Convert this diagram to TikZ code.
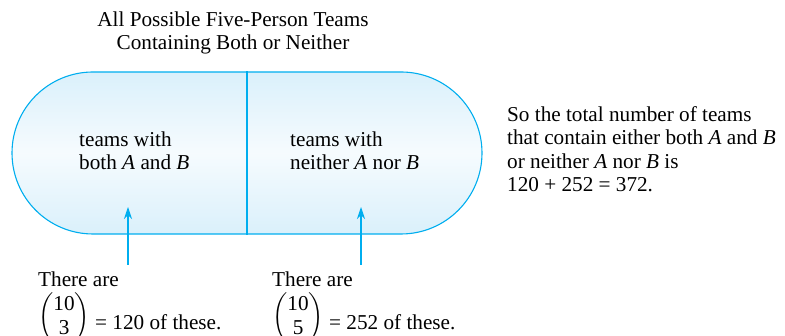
\documentclass[tikz,border=0pt]{standalone}
\usepackage{amsmath}
\usepackage{fontspec}
\setmainfont{Liberation Serif}
\usetikzlibrary{positioning,shapes.misc,arrows.meta}
\definecolor{setblue}{RGB}{0,174,239}
\definecolor{paleblue}{RGB}{218,240,251}
\newcommand{\teamcount}[2]{\raisebox{7pt}{$\left(\begin{tabular}{@{}c@{}}#1\\#2\end{tabular}\right)$}}

\begin{document}
\begin{tikzpicture}[
    x=1pt, y=1pt,
    teamset/.style={rounded rectangle, draw=setblue, line width=1.1pt, minimum width=470pt, minimum height=162pt, inner sep=0pt, top color=paleblue, bottom color=paleblue, middle color=paleblue!25},
    txt/.style={font=\fontsize{21.2}{23.5}\selectfont, align=left, inner sep=0pt, anchor=base west},
    pointer/.style={draw=setblue, line width=1.1pt, -{Stealth[length=12pt,width=8pt]}}
]
    \useasboundingbox (0,0) rectangle (785,336);

    \node [teamset] (teams) at (247,183) {};
    \draw [setblue, line width=1.1pt] (teams.north) -- (teams.south);

    % base anchor = last line
    \node [txt, align=center, anchor=base] (title) at (233,286) {All Possible Five-Person Teams\\Containing Both or Neither};
    \node [txt] (both) at (79,166) {teams with\\both \textit{A} and \textit{B}};
    \node [txt] (neither) at (290,166) {teams with\\neither \textit{A} nor \textit{B}};
    \node [txt] (total) at (507,144) {So the total number of teams\\that contain either both \textit{A} and \textit{B}\\or neither \textit{A} nor \textit{B} is\\120 + 252 = 372.};

    \node [txt] (thereA) at (38,49) {There are};
    \node [txt] (countA) at (38,6) {\teamcount{10}{3} = 120 of these.};
    \node [txt] (thereB) at (272,49) {There are};
    \node [txt] (countB) at (272,6) {\teamcount{10}{5} = 252 of these.};

    \coordinate (footA) at (128,71);
    \coordinate (tipA) at (128,129);
    \coordinate (footB) at (361,71);
    \coordinate (tipB) at (361,129);
    \draw [pointer] (footA) -- (tipA);
    \draw [pointer] (footB) -- (tipB);
\end{tikzpicture}
\end{document}
